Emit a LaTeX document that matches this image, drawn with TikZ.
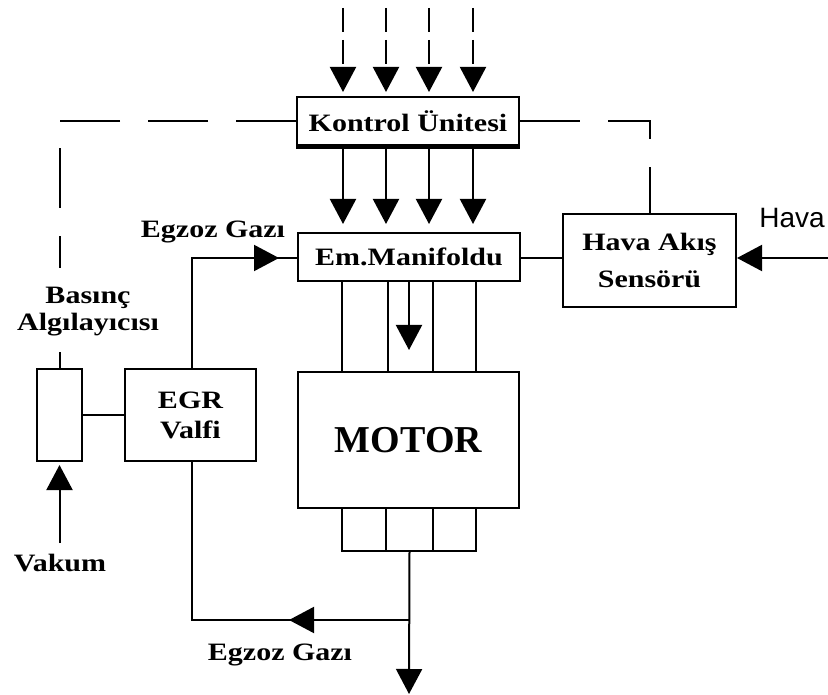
\documentclass[tikz,border=0pt]{standalone}
\usepackage{fontspec}
\setmainfont{Liberation Serif}[FakeStretch=1.2]
\newfontfamily\motorfont{Liberation Serif}
\newfontfamily\havafont{Liberation Sans}
\usetikzlibrary{arrows.meta,decorations.markings}
\begin{document}
\begin{tikzpicture}[x=1pt,y=-1pt,
  box/.style={draw,line width=2pt,inner sep=0pt,font=\fontsize{25}{30}\selectfont\bfseries,align=center},
  lbl/.style={inner sep=0pt,font=\fontsize{25}{27}\selectfont\bfseries,align=center},
  conn/.style={line width=2pt},
  tipped/.style={-{Triangle[length=25pt,width=26pt]}},
  longdash/.style={dash pattern=on 60pt off 28pt},
  shortdash/.style={dash pattern=on 24pt off 8pt},
  midarrow/.style={postaction={decorate},decoration={markings,mark=at position #1 with {\arrow{Triangle[length=25pt,width=26pt]}}}}
]
\useasboundingbox (0,0) rectangle (828,695);

% boxes
\node[box,minimum width=222pt,minimum height=48pt] (kont) at (408,121) {Kontrol Ünitesi};
\draw[line width=4pt] ([yshift=-1pt]kont.south west) -- ([yshift=-1pt]kont.south east);
\node[box,minimum width=222pt,minimum height=48pt] (man) at (409,257) {Em.Manifoldu};
\node[box,minimum width=173pt,minimum height=93pt,font=\fontsize{25}{37}\selectfont\bfseries] (sens) at (649.5,260.5) {Hava Akış\\Sensörü};
\node[box,minimum width=45pt,minimum height=92pt] (bas) at (59.5,415) {};
\node[box,minimum width=131pt,minimum height=92pt,font=\fontsize{25}{30}\selectfont\bfseries] (egr) at (190.5,415) {EGR\\Valfi};
\node[box,minimum width=221pt,minimum height=136pt,font=\fontsize{38}{40}\selectfont\motorfont\bfseries] (mot) at (408.5,440) {MOTOR};
\node[box,minimum width=44pt,minimum height=43pt] (e1) at (364,529.5) {};
\node[box,minimum width=47pt,minimum height=43pt] (e2) at (409.5,529.5) {};
\node[box,minimum width=43pt,minimum height=43pt] (e3) at (454.5,529.5) {};

% labels
\node[lbl] (lbas) at (88,312) {Basınç\\Algılayıcısı};
\node[lbl] (legz1) at (213,232) {Egzoz Gazı};
\node[lbl] (legz2) at (280,655) {Egzoz Gazı};
\node[lbl] (lvak) at (60,563) {Vakum};
\node[inner sep=0pt,font=\fontsize{28}{30}\selectfont\havafont] (lhava) at (792,218) {Hava};

% control inputs and outputs
\foreach \i/\x in {1/343,2/386,3/429,4/473}{
  \coordinate (in\i) at (\x,8);
  \draw[conn,shortdash,tipped,shorten >=4pt] (in\i) -- (in\i |- kont.north);
  \draw[conn,tipped,shorten >=8pt] (in\i |- kont.south) -- (in\i |- man.north);
}
\foreach \x in {342,388,433,476}{
  \draw[conn] (\x,0 |- man.south) -- (\x,0 |- mot.north);
}
\coordinate (midtip) at (409,350);
\draw[conn,tipped] (midtip |- man.south) -- (midtip);

% sensor connections
\coordinate (havain) at (828,258);
\draw[conn,tipped] (havain) -- (havain -| sens.east);
\draw[conn] (man.east |- havain) -- (havain -| sens.west);

% dashed control lines
\coordinate (basdash) at (59.5,268);
\draw[conn,longdash] (kont.west) -| (basdash);
\draw[conn,longdash] (kont.east) -| (sens.north);
\coordinate (bastop) at (59.5,352);
\draw[conn] (bastop) -- (bas.north);

% vakum
\coordinate (vak) at (59.5,543);
\draw[conn,tipped,shorten >=3pt] (vak) -- (bas.south);

% basinc - egr
\draw[conn] (bas.east) -- (egr.west);

% egr recirculation
\coordinate (egrup) at (192,258);
\draw[conn,midarrow=-18pt] (egr.north -| egrup) -- (egrup) -- (man.west |- egrup);

% exhaust
\coordinate (out) at (409,694);
\coordinate (j) at (409,620);
\draw[conn,tipped] (e2.south) -- (out);
\draw[conn,midarrow=120pt] (j) -| (egr.south -| egrup);
\end{tikzpicture}
\end{document}
